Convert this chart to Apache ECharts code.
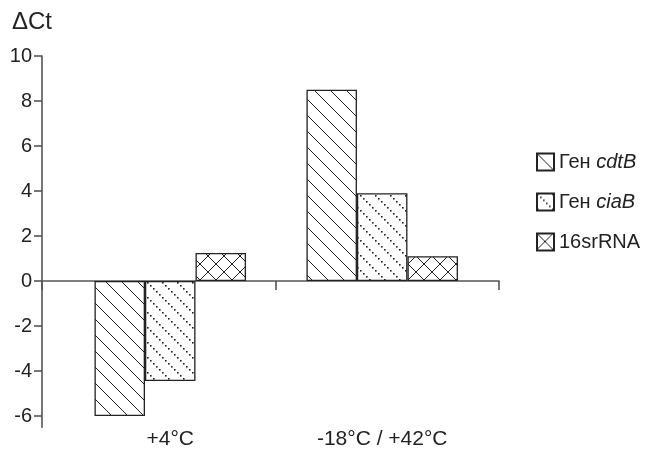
<!DOCTYPE html>
<html><head><meta charset="utf-8">
<script src="https://cdn.jsdelivr.net/npm/echarts@6/dist/echarts.min.js"></script>
<style>html,body{margin:0;padding:0;background:#fff}#c{width:659px;height:453px}</style>
</head><body><div id="c"></div>
<script>
const categories = ['+4°C', '-18°C / +42°C'];
const seriesNames = ['Ген cdtB', 'Ген ciaB', '16srRNA'];
const cdtB = [-6.0, 8.5];
const ciaB = [-4.45, 3.9];
const rRNA16s = [1.25, 1.1];
const yTicks = [-6, -4, -2, 0, 2, 4, 6, 8, 10];

const FONT = 'Liberation Sans, Arial, sans-serif';
const INK = '#222';
const AXIS = '#555';
const X_MIN = -0.605, X_MAX = 1.551;

function pattern(kind) {
  const s = kind === 'dots' ? 15 : 16;
  const c = document.createElement('canvas'); c.width = s; c.height = s;
  const g = c.getContext('2d');
  g.fillStyle = '#fff'; g.fillRect(0, 0, s, s);
  g.strokeStyle = INK; g.lineWidth = 1;
  if (kind === 'lines' || kind === 'cross') {
    g.beginPath(); g.moveTo(-1, -1); g.lineTo(s + 1, s + 1); g.stroke();
  }
  if (kind === 'cross') {
    g.beginPath(); g.moveTo(s + 1, -1); g.lineTo(-1, s + 1); g.stroke();
  }
  if (kind === 'dots') {
    g.fillStyle = INK;
    for (let i = 0; i < 5; i++) g.fillRect(i * 3, i * 3, 1.6, 1.6);
  }
  return { image: c, repeat: 'repeat' };
}

const values = [cdtB, ciaB, rRNA16s];
const kinds = ['lines', 'dots', 'cross'];

const chart = echarts.init(document.getElementById('c'), null, { renderer: 'canvas' });
chart.setOption({
  animation: false,
  backgroundColor: '#fff',
  textStyle: { fontFamily: FONT },
  title: { text: 'ΔCt', left: 12, top: 10, padding: 0, textStyle: { fontFamily: FONT, fontSize: 24, fontWeight: 'normal', color: INK } },
  grid: { left: 42, right: 160, top: 56, bottom: 25.75, containLabel: false },
  legend: {
    orient: 'vertical', left: 536, top: 152, padding: 0,
    itemWidth: 17, itemHeight: 17, itemGap: 20, icon: 'rect',
    data: seriesNames,
    formatter: function (name) {
      if (name.indexOf('Ген ') === 0) return '{n|Ген }{i|' + name.slice(4) + '}';
      return '{n|' + name + '}';
    },
    textStyle: {
      color: INK,
      rich: {
        n: { fontFamily: FONT, fontSize: 20, color: INK, lineHeight: 18 },
        i: { fontFamily: FONT, fontSize: 20, fontStyle: 'italic', color: INK, lineHeight: 18 }
      }
    }
  },
  xAxis: [
    {
      type: 'value', min: X_MIN, max: X_MAX, position: 'bottom',
      axisLine: { show: false, onZero: false },
      axisTick: { show: false },
      splitLine: { show: false },
      axisLabel: {
        customValues: categories.map((c, i) => i),
        formatter: function (v) { return categories[Math.round(v)]; },
        fontSize: 21, color: INK, margin: 1, fontFamily: FONT
      }
    },
    {
      type: 'value', min: X_MIN, max: X_MAX, position: 'bottom',
      axisLine: { show: true, onZero: true, lineStyle: { color: AXIS, width: 1.6 } },
      axisTick: { show: true, customValues: [X_MIN, 0.5, X_MAX], length: 9, lineStyle: { color: AXIS, width: 1.6 } },
      axisLabel: { show: false },
      splitLine: { show: false }
    }
  ],
  yAxis: {
    type: 'value', min: -6.5, max: 10,
    axisLine: { show: true, onZero: false, lineStyle: { color: AXIS, width: 1.6 } },
    axisTick: { show: true, customValues: yTicks, length: 8, lineStyle: { color: AXIS, width: 1.6 } },
    axisLabel: { customValues: yTicks, fontSize: 20, color: INK, margin: 10, fontFamily: FONT },
    splitLine: { show: false }
  },
  series: seriesNames.map((name, k) => ({
    name: name,
    type: 'bar',
    xAxisIndex: 0,
    barWidth: 50.5,
    barGap: '0%',
    data: values[k].map((v, i) => [i, v]),
    itemStyle: { color: pattern(kinds[k]), borderColor: INK, borderWidth: 1.3 },
    emphasis: { disabled: true }
  }))
});
</script>
</body></html>
